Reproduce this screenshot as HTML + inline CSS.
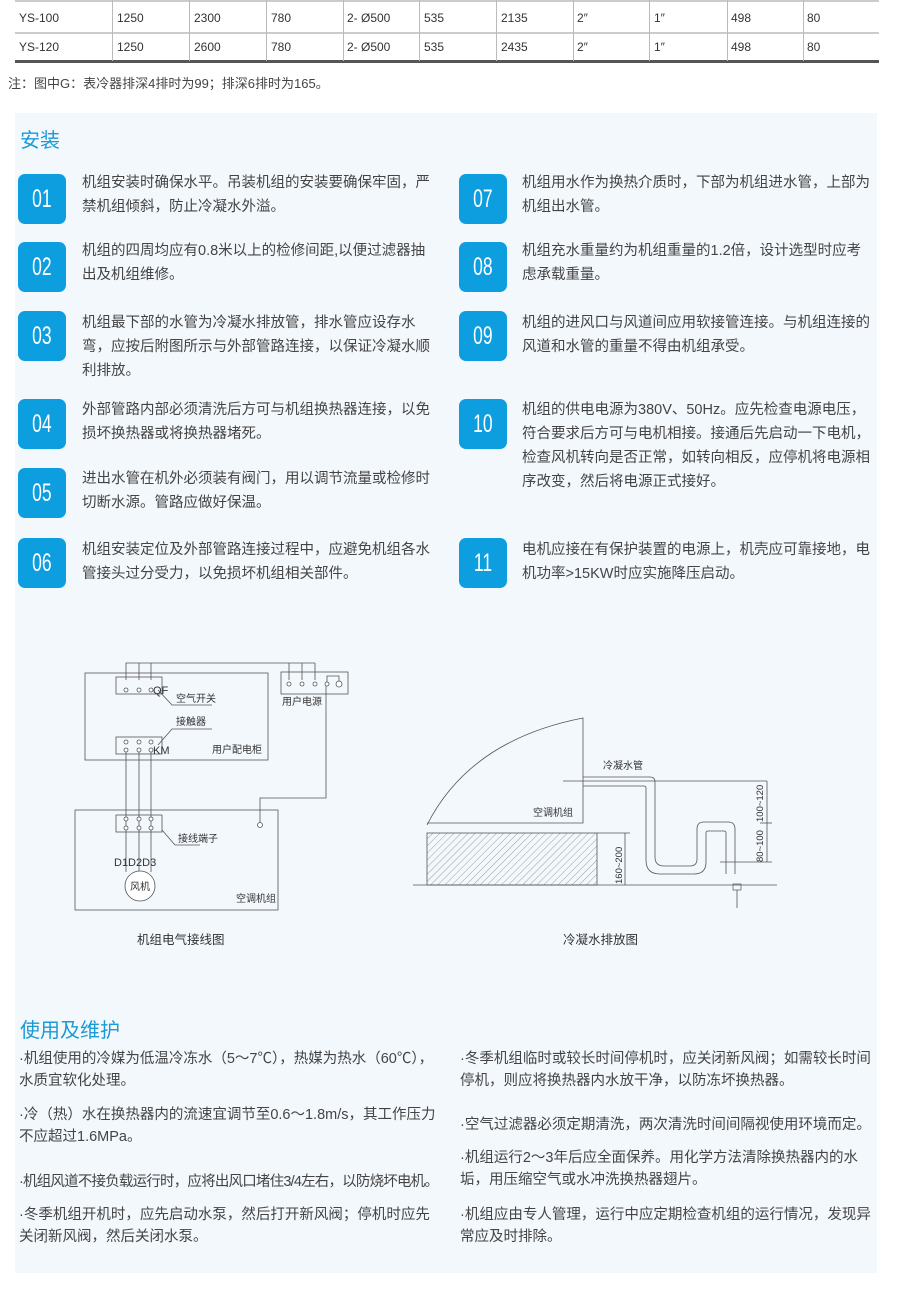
<!DOCTYPE html>
<html><head><meta charset="utf-8"><style>
*{margin:0;padding:0;box-sizing:border-box}
body{width:900px;height:1294px;background:#fff;position:relative;font-family:"Liberation Sans","Noto Sans CJK SC",sans-serif;color:#444;overflow:hidden}
.a{position:absolute;white-space:nowrap}
.vl{position:absolute;width:1px;background:#bbb;top:0;height:61px}
.panel{position:absolute;left:15px;top:113px;width:862px;height:1160px;background:#f3f8fd}
.h{position:absolute;left:20px;font-size:20px;color:#1a9ad6}
.b{position:absolute;width:48px;height:50px;background:#0d9ee0;border-radius:7px;color:#fff;font-size:25px;text-align:center;line-height:50px}
.b span{display:inline-block;transform:scaleX(0.7)}
.t{position:absolute;font-size:14.5px;line-height:24px;color:#444;white-space:nowrap}
.p{position:absolute;font-size:14.5px;line-height:22px;color:#444;white-space:nowrap}
</style></head><body>
<div class="a" style="left:15px;top:0;width:864px;height:2px;background:#ccc"></div>
<div class="a" style="left:15px;top:32px;width:864px;height:2px;background:#ccc"></div>
<div class="a" style="left:15px;top:60px;width:864px;height:3px;background:#555"></div>
<div class="vl" style="left:112px"></div><div class="vl" style="left:189px"></div><div class="vl" style="left:266px"></div><div class="vl" style="left:343px"></div><div class="vl" style="left:419px"></div><div class="vl" style="left:496px"></div><div class="vl" style="left:573px"></div><div class="vl" style="left:649px"></div><div class="vl" style="left:727px"></div><div class="vl" style="left:803px"></div>
<div class="a" style="top:11px;left:0;font-size:12px;color:#333">
<span class="a" style="left:19px">YS-100</span><span class="a" style="left:117px">1250</span><span class="a" style="left:194px">2300</span><span class="a" style="left:271px">780</span><span class="a" style="left:347px">2- Ø500</span><span class="a" style="left:424px">535</span><span class="a" style="left:501px">2135</span><span class="a" style="left:577px">2″</span><span class="a" style="left:654px">1″</span><span class="a" style="left:731px">498</span><span class="a" style="left:807px">80</span></div>
<div class="a" style="top:40px;left:0;font-size:12px;color:#333">
<span class="a" style="left:19px">YS-120</span><span class="a" style="left:117px">1250</span><span class="a" style="left:194px">2600</span><span class="a" style="left:271px">780</span><span class="a" style="left:347px">2- Ø500</span><span class="a" style="left:424px">535</span><span class="a" style="left:501px">2435</span><span class="a" style="left:577px">2″</span><span class="a" style="left:654px">1″</span><span class="a" style="left:731px">498</span><span class="a" style="left:807px">80</span></div>
<div class="a" style="left:8px;top:73px;font-size:13px;color:#444">注：图中G：表冷器排深4排时为99；排深6排时为165。</div>
<div class="panel"></div>
<div class="h" style="top:124px">安装</div>

<div class="b" style="left:18px;top:174px"><span>01</span></div><div class="t" style="left:82px;top:171px">机组安装时确保水平。吊装机组的安装要确保牢固，严<br>禁机组倾斜，防止冷凝水外溢。</div>
<div class="b" style="left:18px;top:242px"><span>02</span></div><div class="t" style="left:82px;top:239px">机组的四周均应有0.8米以上的检修间距,以便过滤器抽<br>出及机组维修。</div>
<div class="b" style="left:18px;top:311px"><span>03</span></div><div class="t" style="left:82px;top:311px">机组最下部的水管为冷凝水排放管，排水管应设存水<br>弯，应按后附图所示与外部管路连接，以保证冷凝水顺<br>利排放。</div>
<div class="b" style="left:18px;top:399px"><span>04</span></div><div class="t" style="left:82px;top:398px">外部管路内部必须清洗后方可与机组换热器连接，以免<br>损坏换热器或将换热器堵死。</div>
<div class="b" style="left:18px;top:468px"><span>05</span></div><div class="t" style="left:82px;top:467px">进出水管在机外必须装有阀门，用以调节流量或检修时<br>切断水源。管路应做好保温。</div>
<div class="b" style="left:18px;top:538px"><span>06</span></div><div class="t" style="left:82px;top:538px">机组安装定位及外部管路连接过程中，应避免机组各水<br>管接头过分受力，以免损坏机组相关部件。</div>

<div class="b" style="left:459px;top:174px"><span>07</span></div><div class="t" style="left:522px;top:171px">机组用水作为换热介质时，下部为机组进水管，上部为<br>机组出水管。</div>
<div class="b" style="left:459px;top:242px"><span>08</span></div><div class="t" style="left:522px;top:239px">机组充水重量约为机组重量的1.2倍，设计选型时应考<br>虑承载重量。</div>
<div class="b" style="left:459px;top:311px"><span>09</span></div><div class="t" style="left:522px;top:311px">机组的进风口与风道间应用软接管连接。与机组连接的<br>风道和水管的重量不得由机组承受。</div>
<div class="b" style="left:459px;top:399px"><span>10</span></div><div class="t" style="left:522px;top:398px">机组的供电电源为380V、50Hz。应先检查电源电压，<br>符合要求后方可与电机相接。接通后先启动一下电机，<br>检查风机转向是否正常，如转向相反，应停机将电源相<br>序改变，然后将电源正式接好。</div>
<div class="b" style="left:459px;top:538px"><span>11</span></div><div class="t" style="left:522px;top:538px">电机应接在有保护装置的电源上，机壳应可靠接地，电<br>机功率&gt;15KW时应实施降压启动。</div>

<svg class="a" style="left:0;top:640px" width="900" height="320" viewBox="0 640 900 320" font-family="Liberation Sans,Noto Sans CJK SC,sans-serif" font-size="10" fill="none" stroke="#555" stroke-width="0.8">
<rect x="85" y="673" width="183" height="87"/>
<rect x="116" y="677" width="46" height="17"/>
<rect x="116" y="737" width="46" height="17"/>
<rect x="281" y="672" width="67" height="22"/>
<rect x="75" y="810" width="203" height="100"/>
<rect x="116" y="815" width="46" height="17"/>
<polyline points="126,680 126,663 315,663"/>
<line x1="139" y1="663" x2="139" y2="680"/><line x1="151" y1="663" x2="151" y2="680"/>
<line x1="289" y1="663" x2="289" y2="680"/><line x1="302" y1="663" x2="302" y2="680"/><line x1="315" y1="663" x2="315" y2="680"/>
<line x1="126" y1="750" x2="126" y2="872"/><line x1="139" y1="750" x2="139" y2="872"/><line x1="151" y1="750" x2="151" y2="872"/>
<polyline points="327,683 327,676 339,676 339,683"/>
<polyline points="326,686 326,798 260,798 260,823"/>
<g fill="#fff"><circle cx="126" cy="690" r="2"/><circle cx="139" cy="690" r="2"/><circle cx="151" cy="690" r="2"/>
<circle cx="126" cy="742" r="2"/><circle cx="139" cy="742" r="2"/><circle cx="151" cy="742" r="2"/>
<circle cx="126" cy="750" r="2"/><circle cx="139" cy="750" r="2"/><circle cx="151" cy="750" r="2"/>
<circle cx="126" cy="819" r="2"/><circle cx="139" cy="819" r="2"/><circle cx="151" cy="819" r="2"/>
<circle cx="126" cy="828" r="2"/><circle cx="139" cy="828" r="2"/><circle cx="151" cy="828" r="2"/>
<circle cx="289" cy="684" r="2"/><circle cx="302" cy="684" r="2"/><circle cx="315" cy="684" r="2"/><circle cx="327" cy="684" r="2"/><circle cx="339" cy="684" r="3"/>
<circle cx="260" cy="825" r="2.5"/><circle cx="140" cy="886" r="15"/></g>
<polyline points="158,690 172,705 212,705"/>
<polyline points="158,745 172,729 212,729"/>
<polyline points="162,830 175,845 200,845"/>
<g fill="#333" stroke="none">
<text x="153" y="694" font-size="11">QF</text><text x="176" y="702">空气开关</text>
<text x="176" y="725">接触器</text><text x="153" y="754" font-size="11">KM</text><text x="212" y="753">用户配电柜</text>
<text x="282" y="705">用户电源</text><text x="178" y="842">接线端子</text>
<text x="114" y="866" font-size="11">D1D2D3</text><text x="130" y="890">风机</text><text x="236" y="902">空调机组</text>
<text x="137" y="944" font-size="12.5">机组电气接线图</text>
<text x="563" y="944" font-size="12.5">冷凝水排放图</text>
<text x="603" y="769">冷凝水管</text><text x="533" y="816">空调机组</text>
</g>
<defs><pattern id="hp" width="5" height="5" patternUnits="userSpaceOnUse" patternTransform="rotate(45)"><line x1="0" y1="0" x2="0" y2="5" stroke="#777" stroke-width="0.7"/></pattern></defs>
<path d="M427,825 Q470,740 583,718 L583,823 L427,823"/>
<rect x="427" y="833" width="170" height="52" fill="url(#hp)"/>
<line x1="413" y1="885" x2="777" y2="885"/>
<line x1="563" y1="781" x2="767" y2="781"/>
<path d="M583,777 H650 Q655,777 655,782 V857 Q655,866 664,866 H690 Q697,866 697,859 V829 Q697,822 704,822 H728 Q735,822 735,829 V874"/>
<path d="M583,786 H644 Q646,786 646,788 V860 Q646,874 660,874 H694 Q706,874 706,862 V833 Q706,831 708,831 H724 Q726,831 726,833 V874"/>
<rect x="733" y="884" width="8" height="6" stroke="#666"/>
<line x1="737" y1="890" x2="737" y2="908"/>
<line x1="767" y1="781" x2="767" y2="862"/><line x1="760" y1="823" x2="772" y2="823"/><line x1="720" y1="862" x2="772" y2="862"/>
<line x1="625" y1="833" x2="625" y2="885"/><line x1="597" y1="833" x2="630" y2="833"/>
<g fill="#333" stroke="none" font-size="9.5">
<text transform="translate(763,822) rotate(-90)">100~120</text>
<text transform="translate(763,862) rotate(-90)">80~100</text>
<text transform="translate(622,884) rotate(-90)">160~200</text>
</g>
</svg>

<div class="h" style="top:1014px">使用及维护</div>
<div class="p" style="left:19px;top:1048px">·机组使用的冷媒为低温冷冻水（5～7℃），热媒为热水（60℃），<br>水质宜软化处理。</div>
<div class="p" style="left:19px;top:1104px">·冷（热）水在换热器内的流速宜调节至0.6～1.8m/s，其工作压力<br>不应超过1.6MPa。</div>
<div class="p" style="left:19px;top:1171px;letter-spacing:-0.8px">·机组风道不接负载运行时，应将出风口堵住3/4左右，以防烧坏电机。</div>
<div class="p" style="left:19px;top:1204px">·冬季机组开机时，应先启动水泵，然后打开新风阀；停机时应先<br>关闭新风阀，然后关闭水泵。</div>
<div class="p" style="left:460px;top:1048px">·冬季机组临时或较长时间停机时，应关闭新风阀；如需较长时间<br>停机，则应将换热器内水放干净，以防冻坏换热器。</div>
<div class="p" style="left:460px;top:1114px">·空气过滤器必须定期清洗，两次清洗时间间隔视使用环境而定。</div>
<div class="p" style="left:460px;top:1147px">·机组运行2～3年后应全面保养。用化学方法清除换热器内的水<br>垢，用压缩空气或水冲洗换热器翅片。</div>
<div class="p" style="left:460px;top:1204px">·机组应由专人管理，运行中应定期检查机组的运行情况，发现异<br>常应及时排除。</div>
</body></html>
